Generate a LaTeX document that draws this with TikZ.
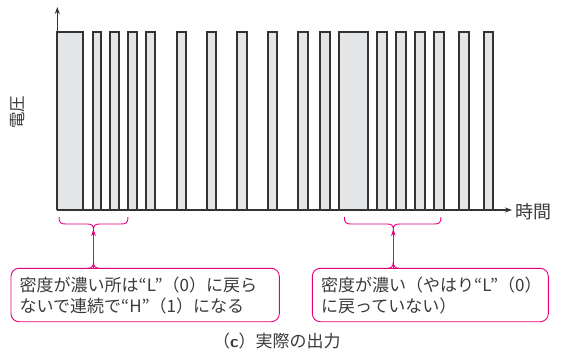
\documentclass[tikz,border=0pt]{standalone}
\usepackage{fontspec}
\newfontfamily\jp{Noto Sans CJK JP}
\usetikzlibrary{arrows.meta}
\definecolor{pinkc}{HTML}{E6007E}
\definecolor{wave}{HTML}{333333}
\definecolor{pfill}{HTML}{E4E5E6}
\definecolor{txt}{HTML}{3A3A3A}
\tikzset{
  pulse/.style={fill=pfill,draw=none},
  waveline/.style={draw=wave,line width=1.8pt,line join=miter},
  axisline/.style={draw=wave,line width=1.3pt,-{Stealth[length=7pt,width=5pt]}},
  pinkline/.style={draw=pinkc,line width=0.9pt},
  callout/.style={draw=pinkc,line width=0.9pt,rounded corners=8pt},
  jtext/.style={text=txt,font=\jp\fontsize{17pt}{21pt}\selectfont,inner sep=0pt},
}
\begin{document}
\begin{tikzpicture}[x=1pt,y=-1pt]
\useasboundingbox (0,0) rectangle (563,351);
% pulses
\def\pulses{57.3/83.3,92.7/101.3,110.3/119.3,128.3/137.3,146/155.3,176.7/185.7,207/216,237.3/246.7,267.7/276.7,297.7/307.7,320/330,339.3/368.3,377.3/387,396.3/406,415.3/425,434.3/444,459.3/469,483.7/493.3}
\foreach \a/\b in \pulses {\fill[pulse] (\a,32.3) rectangle (\b,210);}
% axes
\coordinate (o) at (57.3,210);
\coordinate (ytop) at (57.3,7);
\coordinate (xend) at (512,210);
\draw[axisline] (o) -- (ytop);
\draw[axisline] (o) -- (xend);
% waveform
\draw[waveline] (57.3,210)
  \foreach \a/\b in \pulses { -- (\a,210) -- (\a,32.3) -- (\b,32.3) -- (\b,210) } -- (500,210);
% axis labels
\node[jtext,anchor=west] (tlab) at (515,212) {\fontsize{18pt}{18pt}\selectfont 時間};
\node[jtext,rotate=90] (vlab) at (18,112) {\fontsize{16.5pt}{16.5pt}\selectfont 電圧};
% braces
\coordinate (ltip) at (93.5,229);
\draw[pinkline] (59,217) .. controls (59,223) and (61,224) .. (66,224) -- (87,224)
  .. controls (91,224) and (93.5,225) .. (ltip)
  .. controls (93.5,225) and (96,224) .. (100,224) -- (121,224)
  .. controls (126,224) and (128,223) .. (128,217);
\coordinate (rtip) at (393.3,229);
\draw[pinkline] (344.3,217) .. controls (344.3,223) and (346.3,224) .. (351.3,224) -- (387,224)
  .. controls (391,224) and (393.3,225) .. (rtip)
  .. controls (393.3,225) and (395.6,224) .. (399.6,224) -- (434,224)
  .. controls (439,224) and (441,223) .. (441,217);
% callout boxes
\draw[callout] (11,268.3) rectangle (279.3,321.7);
\coordinate (lb) at (93.5,268.3);
\draw[callout] (312.3,268.3) rectangle (548.3,321.7);
\coordinate (rb) at (393.3,268.3);
% connectors with fillets
\draw[pinkline,-{Stealth[length=7pt,width=4.5pt]}] (lb) -- (ltip);
\draw[pinkline] (87.5,268.3) .. controls (91.5,268.3) and (93.5,266.3) .. (93.5,262.3);
\draw[pinkline] (99.5,268.3) .. controls (95.5,268.3) and (93.5,266.3) .. (93.5,262.3);
\draw[pinkline,-{Stealth[length=7pt,width=4.5pt]}] (rb) -- (rtip);
\draw[pinkline] (387.3,268.3) .. controls (391.3,268.3) and (393.3,266.3) .. (393.3,262.3);
\draw[pinkline] (399.3,268.3) .. controls (395.3,268.3) and (393.3,266.3) .. (393.3,262.3);
% texts
\node[jtext,anchor=west,align=left] (ltext) at (19.5,296) {密度が濃い所は“L”（0）に戻ら\\ないで連続で“H”（1）になる};
\node[jtext,anchor=west,align=left] (rtext) at (321,296) {密度が濃い（やはり“L”（0）\\に戻っていない）};
% caption
\node[jtext,anchor=west] (cap) at (213,341.5) {（{\bfseries\sffamily c}）実際の出力};
\end{tikzpicture}
\end{document}
